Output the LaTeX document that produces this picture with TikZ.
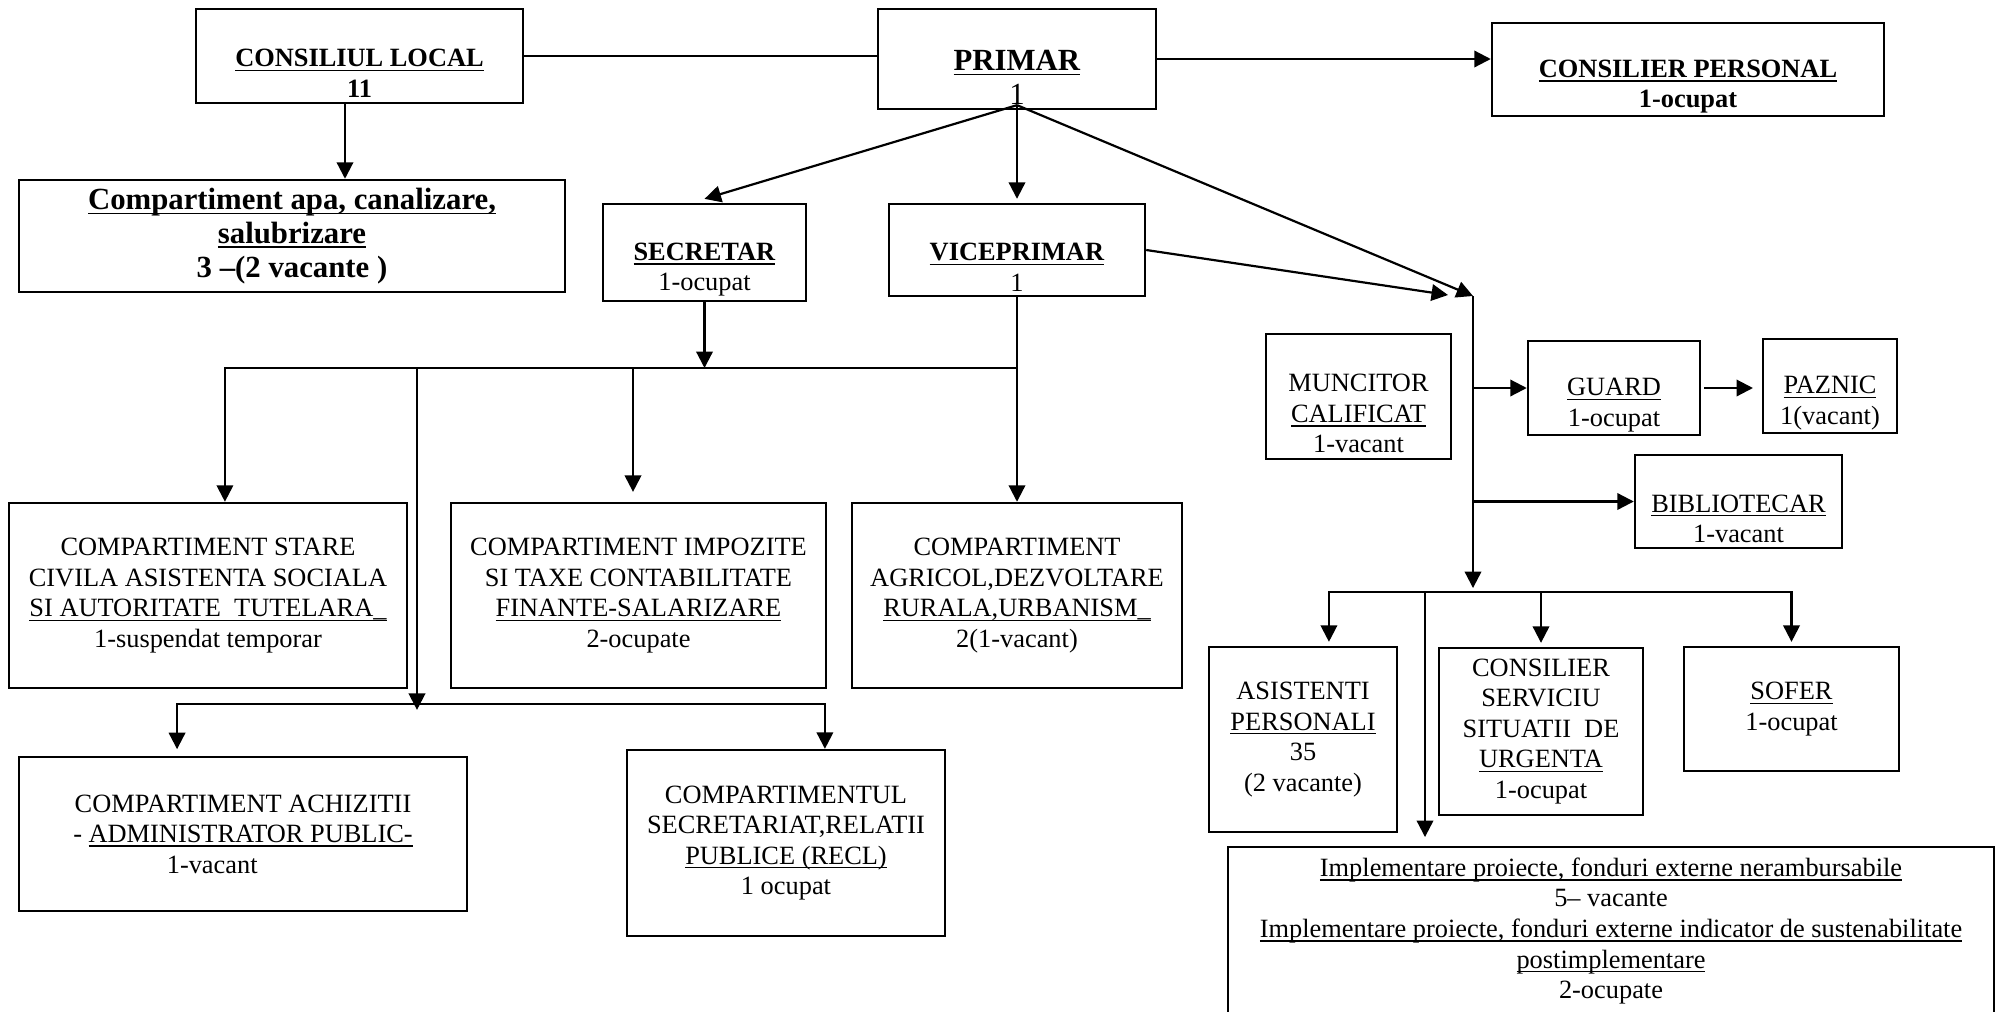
\documentclass[tikz,border=0pt]{standalone}
\usepackage{fontspec}
\setmainfont{Liberation Serif}
\usetikzlibrary{arrows.meta}
\newcommand{\uln}[1]{\setbox0\hbox{#1}\rlap{\rule[-1.9pt]{\wd0}{0.6pt}}\box0}

\begin{document}
\begin{tikzpicture}[x=0.455pt, y=-0.455pt,
    box/.style={draw, line width=1.1pt, align=center, inner sep=0pt,
        font=\fontsize{12}{13.9}\selectfont},
    big/.style={font=\fontsize{14}{15.3}\selectfont},
    arr/.style={line width=1pt, -{Triangle[length=7.5pt,width=7.5pt]}}]
    \useasboundingbox (0,0) rectangle (2002,1011);
    \clip (0,0) rectangle (2002,1011);

    % top row
    \node[box, minimum width=148.8pt, minimum height=42.8pt] (consiliu) at (359.5,56) {\strut\\\uln{\textbf{CONSILIUL LOCAL}}\\\textbf{11}};
    \node[box, big, minimum width=126.5pt, minimum height=45.5pt] (primar) at (1017,59) {\strut\\\uln{\textbf{PRIMAR}}\\1};
    \node[box, minimum width=178.4pt, minimum height=42.3pt] (consilier) at (1688,69.5) {\strut\\\uln{\textbf{CONSILIER PERSONAL}}\\\textbf{1-ocupat}};
    \node[box, big, minimum width=248.4pt, minimum height=51pt] (apa) at (292,236) {\uln{\textbf{Compartiment apa, canalizare,}}\\\uln{\textbf{salubrizare}}\\\textbf{3 –(2 vacante )}};
    \node[box, minimum width=92.4pt, minimum height=44.1pt] (secretar) at (704.5,252.5) {\strut\\\uln{\textbf{SECRETAR}}\\1-ocupat};
    \node[box, minimum width=116.5pt, minimum height=41.9pt] (viceprimar) at (1017,250) {\strut\\\uln{\textbf{VICEPRIMAR}}\\1};

    % compartimente
    \node[box, minimum width=181.1pt, minimum height=84.2pt] (stare) at (208,595.5) {COMPARTIMENT STARE\\CIVILA ASISTENTA SOCIALA\\\uln{SI AUTORITATE\ \ TUTELARA\_}\\1-suspendat temporar};
    \node[box, minimum width=170.6pt, minimum height=84.2pt] (impozite) at (638.5,595.5) {COMPARTIMENT IMPOZITE\\SI TAXE CONTABILITATE\\\uln{FINANTE-SALARIZARE}\\2-ocupate};
    \node[box, minimum width=150.2pt, minimum height=84.2pt] (agricol) at (1017,595.5) {COMPARTIMENT\\AGRICOL,DEZVOLTARE\\\uln{RURALA,URBANISM\_}\\2(1-vacant)};
    \node[box, minimum width=203.8pt, minimum height=70.1pt] (achizitii) at (243,834) {COMPARTIMENT ACHIZITII\\- \uln{ADMINISTRATOR PUBLIC-}\\1-vacant\hspace*{28pt}};
    \node[box, minimum width=144.7pt, minimum height=84.6pt] (recl) at (786,843) {COMPARTIMENTUL\\SECRETARIAT,RELATII\\\uln{PUBLICE (RECL)}\\1 ocupat};

    % right side
    \node[box, minimum width=84.2pt, minimum height=56.9pt] (muncitor) at (1358.5,396.5) {\strut\\MUNCITOR\\\uln{CALIFICAT}\\1-vacant};
    \node[box, minimum width=78.3pt, minimum height=42.8pt] (guard) at (1614,388) {\strut\\\uln{GUARD}\\1-ocupat};
    \node[box, minimum width=61pt, minimum height=42.8pt] (paznic) at (1830,386) {\strut\\\uln{PAZNIC}\\1(vacant)};
    \node[box, minimum width=94.2pt, minimum height=42.3pt] (bibliotecar) at (1738.5,501.5) {\strut\\\uln{BIBLIOTECAR}\\1-vacant};
    \node[box, minimum width=85.5pt, minimum height=84.2pt] (asistenti) at (1303,739.5) {ASISTENTI\\\uln{PERSONALI}\\35\\(2 vacante)};
    \node[box, minimum width=92.8pt, minimum height=76pt] (urgenta) at (1541,731.5) {CONSILIER\\SERVICIU\\SITUATII\ \ DE\\\uln{URGENTA}\\1-ocupat};
    \node[box, minimum width=97.8pt, minimum height=56.4pt] (sofer) at (1791.5,709) {\uln{SOFER}\\1-ocupat};
    \node[box, minimum width=348.5pt, minimum height=76.4pt] (proiecte) at (1611,931) {\uln{Implementare proiecte, fonduri externe nerambursabile}\\5– vacante\\\uln{Implementare proiecte, fonduri externe indicator de sustenabilitate}\\\uln{postimplementare}\\2-ocupate};

    % connectors
    \coordinate (c0) at ([xshift=-6.6pt]consiliu.south);
    \coordinate (p0) at ([yshift=2.3pt]primar.south);
    \coordinate (jn) at (1473,296);
    \coordinate (jv) at (1448,295);
    \coordinate (bus1) at (1017,368);
    \coordinate (b2) at (417,704);
    \coordinate (b3) at (1473,592);
    \coordinate (b3i) at (1425,592);
    \coordinate (ti) at ([xshift=-2.5pt,yshift=4.5pt]impozite.north);
    \coordinate (ta) at ([xshift=-30pt,yshift=3pt]achizitii.north);
    \coordinate (tr) at ([xshift=17.7pt]recl.north);
    \coordinate (tas) at ([xshift=11.8pt,yshift=1.8pt]asistenti.north);

    \draw[line width=0.7pt] (consiliu.east) -- (consiliu.east -| primar.west);
    \draw[arr] (primar.east) -- (primar.east -| consilier.west);
    \draw[arr] (c0) -- (c0 |- apa.north);

    \draw[arr] (p0) -- ([yshift=1.8pt]secretar.north);
    \draw[arr] (p0) -- ([yshift=1.8pt]viceprimar.north);
    \draw[arr] (p0) -- (jn);
    \draw[arr] (viceprimar.east) -- (jv);

    \draw[arr] (secretar.south) -- (secretar.south |- bus1);
    \draw[arr] (viceprimar.south) -- (agricol.north);
    \draw[arr] (bus1) -| ([xshift=7.7pt]stare.north);
    \draw[arr] (ti |- bus1) -- (ti);
    \draw[arr] (b2 |- bus1) -- ([yshift=-2.7pt]b2);
    \draw[arr] (b2) -| (ta);
    \draw[arr] (b2) -| (tr);

    \draw[arr] (jn) -- ([yshift=1.8pt]b3);
    \draw[arr] (jn |- guard.west) -- (guard.west);
    \draw[arr, shorten <=1.4pt, shorten >=4pt] (guard.east) -- (guard.east -| paznic.west);
    \draw[arr] (jn |- bibliotecar.west) -- (bibliotecar.west);
    \draw[arr] (b3) -| (tas);
    \draw[arr] (b3) -| ([yshift=1.8pt]urgenta.north);
    \draw[arr] (b3) -| ([yshift=1.8pt]sofer.north);
    \draw[arr, shorten >=4pt] (b3i) -- (b3i |- proiecte.north);
\end{tikzpicture}
\end{document}
